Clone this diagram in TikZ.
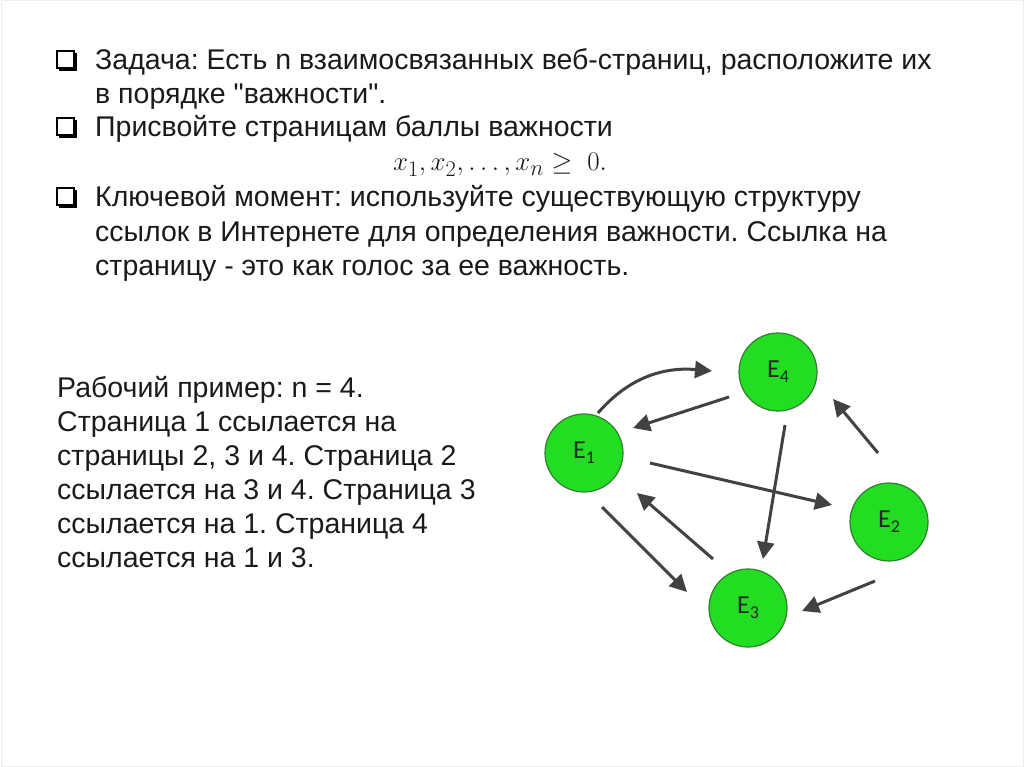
\documentclass[tikz,border=0pt]{standalone}
\usepackage{graphicx}
\usepackage{fontspec}
\newfontfamily\bodyfont{Liberation Sans}
\newfontfamily\efont{Carlito}
\usetikzlibrary{arrows.meta,calc}
\definecolor{txt}{HTML}{1A1A1A}
\definecolor{arr}{HTML}{424242}
\definecolor{nodegreen}{HTML}{22DD22}
\definecolor{nodeborder}{HTML}{2F7F2F}
\definecolor{frame}{HTML}{EEEEEE}
\tikzset{
  txtline/.style={anchor=base west, inner sep=0pt, text=txt, font=\bodyfont\frenchspacing\fontsize{28.5}{34}\selectfont},
  page/.style={circle, minimum size=78pt, inner sep=0pt, fill=nodegreen, draw=nodeborder, line width=1.2pt, text=black!85, font=\efont\fontsize{26}{26}\selectfont},
  link/.style={draw=arr, line width=3pt, -{Triangle[length=17pt,width=17pt]}},
  qbox/.pic={
    \fill[black] (2,2) rectangle (20,20);
    \filldraw[fill=white, draw=black, line width=1.2pt] (0,0) rectangle (17,17);
  }
}
\newcommand\sub[1]{\raisebox{-5pt}{\fontsize{18}{18}\selectfont #1}}
\begin{document}
\begin{tikzpicture}[x=1pt, y=-1pt]
\useasboundingbox (0,0) rectangle (1024,767);
\draw[frame, line width=1pt] (1,1) rectangle (1023,766);

% bullets
\pic at (57,51) {qbox};
\pic at (57,118) {qbox};
\pic at (57,188) {qbox};

% top text
\node[txtline] (t1) at (95,70) {Задача: Есть n взаимосвязанных веб-страниц, расположите их};
\node[txtline] (t2) at (95,103.5) {в порядке "важности".};
\node[txtline] (t3) at (95,137) {Присвойте страницам баллы важности};
\node[txtline, font=\fontsize{24.88}{30}\selectfont] (t4) at (393,171) {\scalebox{1.08}{$x_1, x_2, \ldots, x_n \geq\; 0.$}};
\node[txtline] (t5) at (95,207) {Ключевой момент: используйте существующую структуру};
\node[txtline] (t6) at (95,241) {ссылок в Интернете для определения важности. Ссылка на};
\node[txtline] (t7) at (95,275) {страницу - это как голос за ее важность.};

% example text
\node[txtline] (l1) at (57,397) {Рабочий пример: n = 4.};
\node[txtline] (l2) at (57,431) {Страница 1 ссылается на};
\node[txtline] (l3) at (57,465) {страницы 2, 3 и 4. Страница 2};
\node[txtline] (l4) at (57,499) {ссылается на 3 и 4. Страница 3};
\node[txtline] (l5) at (57,533) {ссылается на 1. Страница 4};
\node[txtline] (l6) at (57,567) {ссылается на 1 и 3.};

% graph nodes
\node[page] (E1) at (584,453) {E\sub{1}};
\node[page] (E4) at (778,372) {E\sub{4}};
\node[page] (E2) at (889,522) {E\sub{2}};
\node[page] (E3) at (748,608) {E\sub{3}};

% connectors
\draw[link] ($(E1)+(14,-40)$) .. controls ($(E1)+(38,-68)$) and ($(E4)+(-123,-6)$) .. ($(E4)+(-66,-1)$);
\draw[link] ($(E4)+(-49,25)$) -- ($(E1)+(49,-25)$);
\draw[link] ($(E1)+(66,10)$) -- ($(E2)+(-57,-17)$);
\draw[link] ($(E4)+(7,53)$) -- ($(E3)+(15,-49)$);
\draw[link] ($(E2)+(-11,-69)$) -- ($(E4)+(55,27)$);
\draw[link] ($(E1)+(18,54)$) -- ($(E3)+(-61,-16)$);
\draw[link] ($(E3)+(-35,-49)$) -- ($(E1)+(53,40)$);
\draw[link] ($(E2)+(-14,59)$) -- ($(E3)+(54,3)$);
\end{tikzpicture}
\end{document}
